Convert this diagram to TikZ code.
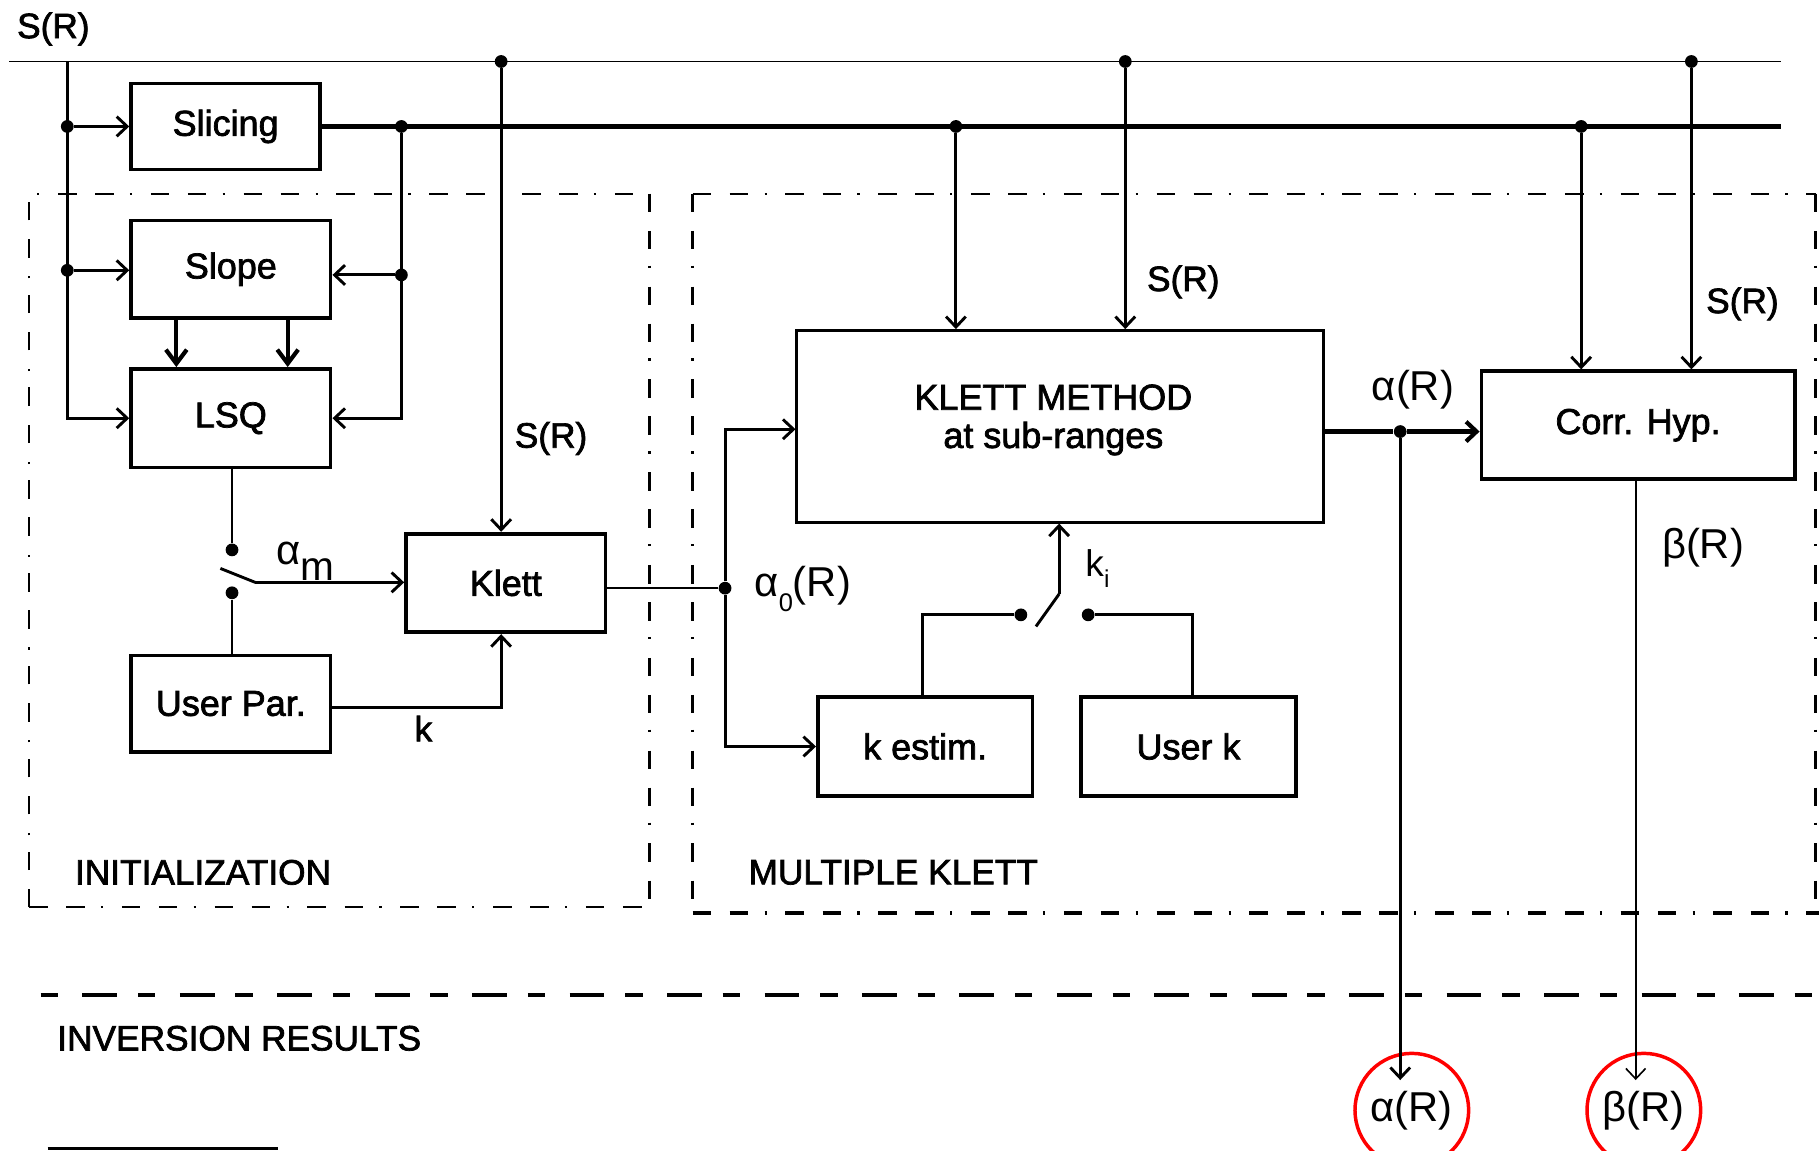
\documentclass[tikz,border=0pt]{standalone}
\usepackage{fontspec}
\setmainfont{Liberation Sans}
\newfontfamily\heavyfont{Liberation Sans}[FakeBold=2]
\usetikzlibrary{arrows.meta,calc}
\begin{document}
\begin{tikzpicture}[x=0.5pt,y=-0.5pt,
  box/.style={draw, line width=1.6pt, inner sep=0pt, font=\heavyfont\fontsize{15.5}{17}\selectfont},
  lbl/.style={inner sep=0pt, font=\heavyfont\fontsize{15.2}{17}\selectfont},
  glbl/.style={inner sep=0pt, font=\fontsize{18}{20}\selectfont},
  dot/.style={circle, fill=black, inner sep=0pt, minimum size=5.5pt},
  thinln/.style={line width=0.7pt},
  medln/.style={line width=1.25pt},
  thickln/.style={line width=1.8pt},
  bar/.style={-{Straight Barb[length=4.5pt,width=8.5pt]}},
  bigbar/.style={line width=1.8pt,-{Straight Barb[length=6pt,width=9pt]}},
  dd/.style={dash pattern=on 8pt off 8pt on 8pt off 7pt on 1pt off 8pt},
  inv/.style={line width=1.7pt, dash pattern=on 7.5pt off 10.5pt on 15pt off 9pt},
  ring/.style={circle, draw=red, line width=1.5pt, minimum size=49pt, inner sep=0pt, font=\fontsize{18}{20}\selectfont}
]
\useasboundingbox (0,0) rectangle (1568,992);
\clip (0,0) rectangle (1568,992);

% ---- boxes
\node[box, minimum width=81.5pt, minimum height=37pt] (slicing) at (194.5,109) {Slicing};
\node[box, minimum width=86pt, minimum height=42pt] (slope) at (199,232) {\raisebox{-2pt}{Slope}};
\node[box, minimum width=86pt, minimum height=42.5pt] (lsq) at (199,360.5) {LSQ};
\node[box, minimum width=86pt, minimum height=41.5pt] (userpar) at (199,606.5) {User Par.};
\node[box, minimum width=86pt, minimum height=42.5pt] (klett) at (436,502.5) {Klett};
\node[box, line width=1.3pt, minimum width=227pt, minimum height=82.5pt] (km) at (914,367.5) {};
\node[lbl, align=center, font=\heavyfont\fontsize{15.5}{16.5}\selectfont] (kmtext) at (908,362) {KLETT METHOD\\at sub-ranges};
\node[box, minimum width=135pt, minimum height=46.5pt] (corr) at (1412,366.5) {Corr. Hyp.};
\node[box, minimum width=92.5pt, minimum height=42.5pt] (kest) at (797.5,643.5) {k estim.};
\node[box, minimum width=92.5pt, minimum height=42.5pt] (userk) at (1024.5,643.5) {User k};

% ---- result circles
\node[ring] (ra) at (1217,957) {α(R)};
\node[ring] (rb) at (1417,957) {β(R)};

% ---- junctions and free ends
\coordinate (busL1) at (8,53);
\coordinate (busR1) at (1535,53);
\coordinate (busR2) at (1535,109);
\coordinate (lv) at (58,53);
\node[dot] (dl1) at (58,109) {};
\node[dot] (dl2) at (58,233) {};
\node[dot] (dr1) at (346,109) {};
\node[dot] (dr2) at (346,237) {};
\node[dot] (dk) at (432,53) {};
\node[dot] (sw1) at (200,474) {};
\node[dot] (sw2) at (200,511) {};
\coordinate (bl1) at (190,490);
\coordinate (bl2) at (220,502);
\node[dot] (da0) at (625,507) {};
\node[dot] (dkm1) at (824,109) {};
\node[dot] (dkm2) at (970,53) {};
\node[dot] (da) at (1207,372) {};
\node[dot] (dc1) at (1363,109) {};
\node[dot] (dc2) at (1458,53) {};
\node[dot] (ki1) at (880,530) {};
\node[dot] (ki2) at (938,530) {};
\coordinate (kb1) at (893,540);
\coordinate (kb2) at (913,512);
\coordinate (aend) at (1207,931);
\coordinate (bend) at (1410,931);

% ---- buses
\draw[line width=0.8pt] (busL1) -- (busR1);
\draw[line width=1.9pt] (slicing.east) -- (busR2);

% ---- initialization connectors
\draw[medln, bar] (lv) |- (lsq.west);
\draw[medln, bar] (dl1) -- (slicing.west);
\draw[medln, bar] (dl2) -- (dl2 -| slope.west);
\draw[medln, bar] (dr1) |- (lsq.east);
\draw[medln, bar] (dr2) -- (dr2 -| slope.east);
\draw[bigbar] ([xshift=-23.5pt]slope.south) -- ([xshift=-23.5pt]lsq.north);
\draw[bigbar] ([xshift=24.5pt]slope.south) -- ([xshift=24.5pt]lsq.north);
\draw[medln, bar] (dk) -- (dk |- klett.north);
\draw[medln] (sw1 |- lsq.south) -- (sw1);
\draw[medln] (sw2) -- (sw2 |- userpar.north);
\draw[medln] (bl1) -- (bl2);
\draw[medln, bar] (bl2) -- (bl2 -| klett.west);
\draw[medln, bar] ([yshift=-1.75pt]userpar.east) -| ([xshift=-2pt]klett.south);

% ---- multiple klett connectors
\draw[thinln] ([yshift=-2.25pt]klett.east) -- (da0);
\draw[medln, bar] (da0) |- ([yshift=-1.25pt]km.west);
\draw[medln, bar] (da0) |- (kest.west);
\draw[medln, bar] (dkm1) -- (dkm1 |- km.north);
\draw[medln, bar] (dkm2) -- (dkm2 |- km.north);
\draw[thickln] ([yshift=-2.25pt]km.east) -- (da);
\draw[thickln, bar] (da) -- (da -| corr.west);
\draw[medln, bar] (da) -- (aend);
\draw[medln, bar] (dc1) -- (dc1 |- corr.north);
\draw[medln, bar] (dc2) -- (dc2 |- corr.north);
\draw[thinln, bar] ([xshift=-1pt]corr.south) -- (bend);
\draw[medln] ([xshift=-1.25pt]kest.north) |- (ki1);
\draw[medln] (kb1) -- (kb2);
\draw[medln, bar] (kb2) -- (kb2 |- km.south);
\draw[medln] (ki2) -| ([xshift=1.75pt]userk.north);

% ---- region frames
\draw[dd, line width=0.7pt] (25,782) -- (25,167) -- (560,167);
\draw[dd, line width=1.1pt] (560,167) -- (560,782);
\draw[dd, line width=0.7pt] (25,782) -- (560,782);
\draw[dd, line width=0.7pt] (597,167) -- (1565,167);
\draw[dd, line width=1.1pt] (597,167) -- (597,787);
\draw[dd, line width=1.1pt] (1565,167) -- (1565,787);
\draw[dd, line width=1.7pt] (597,787) -- (1568,787);
\draw[inv] (35,858) -- (1568,858);
\draw[line width=1.7pt] (41,990) -- (240,990);

% ---- labels
\node[lbl] (s0) at (46,25) {S(R)};
\node[lbl] (s1) at (475,378) {S(R)};
\node[lbl] (s2) at (1020,243) {S(R)};
\node[lbl] (s3) at (1502,262) {S(R)};
\node[lbl] (klbl) at (365,628) {k};
\node[lbl] (init) at (175,752) {INITIALIZATION};
\node[lbl] (mk) at (770,752) {MULTIPLE KLETT};
\node[lbl, anchor=west] (inv) at (49,895) {INVERSION RESULTS};
\node[glbl] (am) at (263,484) {α\raisebox{-7pt}{\fontsize{17.5}{17.5}\selectfont m}};
\node[glbl] (a0) at (692,508) {α\raisebox{-6.5pt}{\fontsize{11}{11}\selectfont 0}(R)};
\node[glbl, font=\fontsize{16}{18}\selectfont] (kil) at (946,490) {k\raisebox{-5pt}{\fontsize{10.5}{10.5}\selectfont i}};
\node[glbl] (alab) at (1218,336) {α(R)};
\node[glbl] (blab) at (1468,472) {β(R)};
\end{tikzpicture}
\end{document}
